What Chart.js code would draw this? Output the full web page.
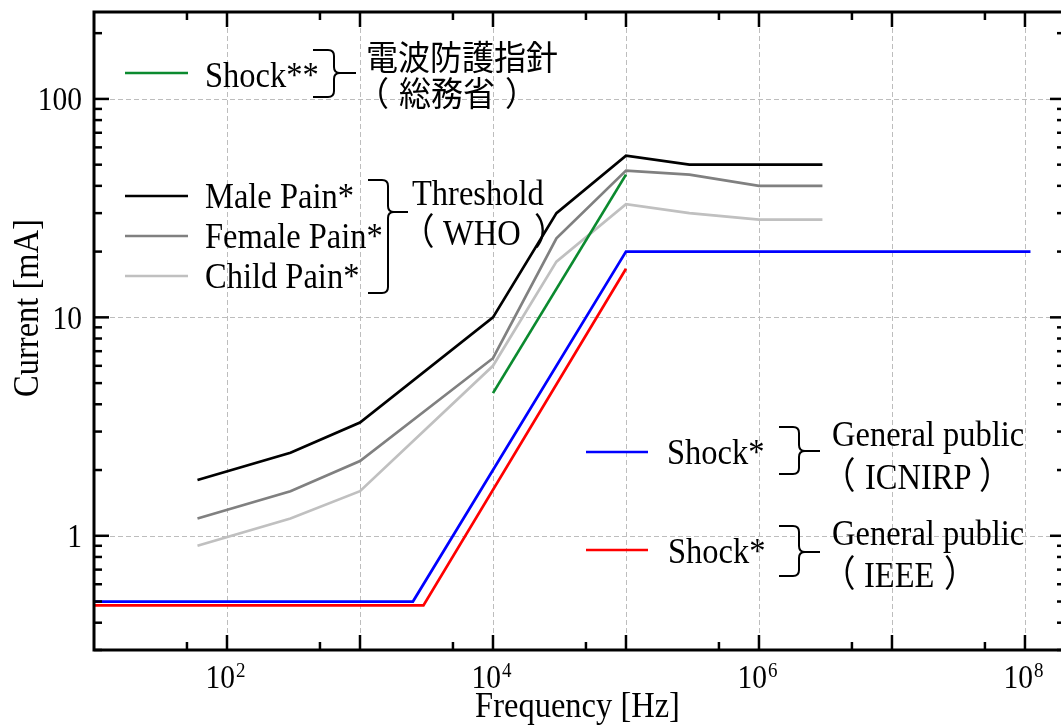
<!DOCTYPE html>
<html>
<head>
<meta charset="utf-8">
<script src="https://cdn.jsdelivr.net/npm/chart.js@4.4.1/dist/chart.umd.min.js"></script>
<style>
  html, body { margin: 0; padding: 0; background: #fff; }
  #wrap { width: 1061px; height: 726px; overflow: hidden; position: relative; }
  canvas { display: block; }
</style>
</head>
<body>
<div id="wrap"><canvas id="chart" width="1070" height="726"></canvas></div>
<script>
// ---- data: frequency [Hz] and current [mA] ----
const painFreq      = [60, 300, 1000, 1e4, 3e4, 1e5, 3e5, 1e6, 3e6];
const malePain      = [1.8, 2.4, 3.3, 10, 30, 55, 50, 50, 50];
const femalePain    = [1.2, 1.6, 2.2, 6.5, 23, 47, 45, 40, 40];
const childPain     = [0.9, 1.2, 1.6, 6.0, 18, 33, 30, 28, 28];
const micFreq       = [1e4, 1e5];
const micShock      = [4.5, 45];
const icnirpFreq    = [10, 2500, 1e5, 1.1e8];
const icnirpShock   = [0.5, 0.5, 20, 20];
const ieeeFreq      = [10, 3000, 1e5];
const ieeeShock     = [0.48, 0.48, 16.7];

// ---- axes ----
const xRange        = [10, 2e8];
const yRange        = [0.3, 250];
const xGridValues   = [1e2, 1e3, 1e4, 1e5, 1e6, 1e7, 1e8];
const xMinorValues  = [50, 500, 5e3, 5e4, 5e5, 5e6, 5e7];
const xLabelExps    = [2, 4, 6, 8];
const yGridValues   = [1, 10, 100];
const yTickLabels   = ['1', '10', '100'];
const yMinorValues  = [0.3, 0.4, 0.5, 0.6, 0.7, 0.8, 0.9, 2, 3, 4, 5, 6, 7, 8, 9,
                       20, 30, 40, 50, 60, 70, 80, 90, 200];
const xTitle = 'Frequency [Hz]';
const yTitle = 'Current [mA]';

// ---- legend texts ----
const seriesNames = ['Shock**', 'Male Pain*', 'Female Pain*', 'Child Pain*', 'Shock*', 'Shock*'];
const groupNames = {
  mic:    ['電波防護指針', '総務省'],
  who:    ['Threshold', 'WHO'],
  icnirp: ['General public', 'ICNIRP'],
  ieee:   ['General public', 'IEEE']
};
const OPEN = '（', CLOSE = '）';

const COLORS = {
  green: '#0b8a2f', black: '#000000', gray: '#808080',
  light: '#c0c0c0', blue: '#0000ff', red: '#ff0000'
};

const SERIF = "'Liberation Serif', 'Times New Roman', 'Noto Sans CJK JP', serif";
const CJK = "'Noto Sans CJK JP', 'Noto Sans CJK SC', sans-serif";
const TALL = 1.13; // glyphs in this figure are drawn slightly tall

function pts(xs, ys) { return xs.map((x, i) => ({ x: x, y: ys[i] })); }

function text(ctx, str, x, y, size, family, align, sy, rot, weight) {
  ctx.save();
  ctx.translate(x, y);
  if (rot) ctx.rotate(rot);
  ctx.scale(1, sy || 1);
  ctx.font = (weight ? weight + ' ' : '') + size + 'px ' + family;
  ctx.textAlign = align || 'left';
  ctx.textBaseline = 'alphabetic';
  ctx.fillStyle = '#000';
  ctx.fillText(str, 0, 0);
  ctx.restore();
}

// parenthesised note: "(" glyph, inner text, ")" glyph placed individually
function paren(ctx, xOpen, xText, xClose, y, inner, size, family, sy) {
  text(ctx, OPEN, xOpen, y, size, CJK, 'left', sy);
  text(ctx, inner, xText, y, size, family, 'left', sy);
  text(ctx, CLOSE, xClose, y, size, CJK, 'left', sy);
}

function brace(ctx, x0, xv, top, mid, bot, xTip) {
  const r = 6;
  ctx.save();
  ctx.strokeStyle = '#000';
  ctx.lineWidth = 2;
  ctx.beginPath();
  ctx.moveTo(x0, top);
  ctx.lineTo(xv - r, top);
  ctx.quadraticCurveTo(xv, top, xv, top + r);
  ctx.lineTo(xv, mid - r);
  ctx.quadraticCurveTo(xv, mid, xv + r, mid);
  ctx.lineTo(xTip, mid);
  ctx.moveTo(xv + r, mid);
  ctx.quadraticCurveTo(xv, mid, xv, mid + r);
  ctx.lineTo(xv, bot - r);
  ctx.quadraticCurveTo(xv, bot, xv - r, bot);
  ctx.lineTo(x0, bot);
  ctx.stroke();
  ctx.restore();
}

function sample(ctx, x1, x2, y, color) {
  ctx.save();
  ctx.strokeStyle = color;
  ctx.lineWidth = 2.7;
  ctx.beginPath();
  ctx.moveTo(x1, y);
  ctx.lineTo(x2, y);
  ctx.stroke();
  ctx.restore();
}

const gridPlugin = {
  id: 'dashedGrid',
  beforeDatasetsDraw(chart) {
    const { ctx, chartArea: a, scales: { x, y } } = chart;
    ctx.save();
    ctx.strokeStyle = '#bdbdbd';
    ctx.lineWidth = 1;
    ctx.setLineDash([5, 3]);
    xGridValues.forEach(v => {
      const px = Math.round(x.getPixelForValue(v)) + 0.5;
      ctx.beginPath(); ctx.moveTo(px, a.top); ctx.lineTo(px, a.bottom); ctx.stroke();
    });
    yGridValues.forEach(v => {
      const py = Math.round(y.getPixelForValue(v)) + 0.5;
      ctx.beginPath(); ctx.moveTo(a.left, py); ctx.lineTo(a.right, py); ctx.stroke();
    });
    ctx.restore();
  }
};

const framePlugin = {
  id: 'frameAndLabels',
  afterDatasetsDraw(chart) {
    const { ctx, chartArea: a, scales: { x, y } } = chart;
    ctx.save();
    ctx.strokeStyle = '#000';
    ctx.lineWidth = 3;
    ctx.strokeRect(a.left, a.top, a.right - a.left, a.bottom - a.top);

    // inward tick marks on all four sides
    ctx.lineWidth = 2.5;
    const tick = (x1, y1, x2, y2) => { ctx.beginPath(); ctx.moveTo(x1, y1); ctx.lineTo(x2, y2); ctx.stroke(); };
    xGridValues.forEach(v => {
      const px = x.getPixelForValue(v);
      tick(px, a.bottom, px, a.bottom - 15);
      tick(px, a.top, px, a.top + 15);
    });
    xMinorValues.forEach(v => {
      const px = x.getPixelForValue(v);
      tick(px, a.bottom, px, a.bottom - 8);
      tick(px, a.top, px, a.top + 8);
    });
    yGridValues.forEach(v => {
      const py = y.getPixelForValue(v);
      tick(a.left, py, a.left + 15, py);
      tick(a.right, py, a.right - 15, py);
    });
    yMinorValues.forEach(v => {
      const py = y.getPixelForValue(v);
      tick(a.left, py, a.left + 8, py);
      tick(a.right, py, a.right - 8, py);
    });
    ctx.restore();

    // tick labels
    yGridValues.forEach((v, i) => {
      const py = y.getPixelForValue(v);
      text(ctx, yTickLabels[i], a.left - 12, py + 11.5, 29.5, SERIF, 'right', TALL);
    });
    xLabelExps.forEach(e => {
      const px = x.getPixelForValue(Math.pow(10, e));
      text(ctx, '10', px + 8, 688, 29.5, SERIF, 'right', TALL);
      text(ctx, String(e), px + 9, 677, 19, SERIF, 'left', TALL);
    });

    // axis titles
    text(ctx, xTitle, (a.left + 1061) / 2, 717, 32.5, SERIF, 'center', TALL);
    text(ctx, yTitle, 38, 308, 32.5, SERIF, 'center', TALL, -Math.PI / 2);

    // legend: MIC guideline
    sample(ctx, 125, 188, 73, COLORS.green);
    text(ctx, seriesNames[0], 205, 87, 32.5, SERIF, 'left', TALL);
    brace(ctx, 313, 334, 50, 73, 97, 356);
    text(ctx, groupNames.mic[0], 366, 70, 32, CJK, 'left', 1.05);
    paren(ctx, 357, 399, 505, 106, groupNames.mic[1], 32, CJK, 1.05);

    // legend: WHO thresholds
    sample(ctx, 125, 188, 196, COLORS.black);
    sample(ctx, 125, 188, 236, COLORS.gray);
    sample(ctx, 125, 188, 276, COLORS.light);
    text(ctx, seriesNames[1], 205, 208, 32.5, SERIF, 'left', TALL);
    text(ctx, seriesNames[2], 205, 248, 32.5, SERIF, 'left', TALL);
    text(ctx, seriesNames[3], 205, 288, 32.5, SERIF, 'left', TALL);
    brace(ctx, 368, 388, 180, 212, 293, 408);
    text(ctx, groupNames.who[0], 412, 205, 32.5, SERIF, 'left', TALL);
    paren(ctx, 402, 443, 534, 245, groupNames.who[1], 32.5, SERIF, TALL);

    // legend: ICNIRP
    sample(ctx, 586, 648, 452, COLORS.blue);
    text(ctx, seriesNames[4], 667, 464, 32.5, SERIF, 'left', TALL);
    brace(ctx, 779, 799, 427, 451, 474, 820);
    text(ctx, groupNames.icnirp[0], 832, 446, 32.5, SERIF, 'left', TALL);
    paren(ctx, 823, 865, 979, 489, groupNames.icnirp[1], 32.5, SERIF, TALL);

    // legend: IEEE
    sample(ctx, 586, 648, 550, COLORS.red);
    text(ctx, seriesNames[5], 668, 563, 32.5, SERIF, 'left', TALL);
    brace(ctx, 779, 799, 526, 552, 576, 820);
    text(ctx, groupNames.ieee[0], 832, 545, 32.5, SERIF, 'left', TALL);
    paren(ctx, 823, 864, 944, 587, groupNames.ieee[1], 32.5, SERIF, TALL);
  }
};

const line = (label, data, color) => ({
  label: label, data: data, borderColor: color, backgroundColor: color,
  borderWidth: 2.7, pointRadius: 0, showLine: true, tension: 0,
  borderCapStyle: 'butt', borderJoinStyle: 'miter', fill: false
});

new Chart(document.getElementById('chart'), {
  type: 'scatter',
  data: {
    datasets: [
      line(seriesNames[1], pts(painFreq, malePain), COLORS.black),
      line(seriesNames[0], pts(micFreq, micShock), COLORS.green),
      line(seriesNames[2], pts(painFreq, femalePain), COLORS.gray),
      line(seriesNames[3], pts(painFreq, childPain), COLORS.light),
      line(seriesNames[4], pts(icnirpFreq, icnirpShock), COLORS.blue),
      line(seriesNames[5], pts(ieeeFreq, ieeeShock), COLORS.red)
    ]
  },
  options: {
    responsive: false,
    animation: false,
    devicePixelRatio: 1,
    layout: { padding: { left: 94, top: 12, right: 5, bottom: 76 } },
    plugins: { legend: { display: false }, tooltip: { enabled: false } },
    scales: {
      x: { type: 'logarithmic', min: xRange[0], max: xRange[1], display: false },
      y: { type: 'logarithmic', min: yRange[0], max: yRange[1], display: false }
    }
  },
  plugins: [gridPlugin, framePlugin]
});
</script>
</body>
</html>
